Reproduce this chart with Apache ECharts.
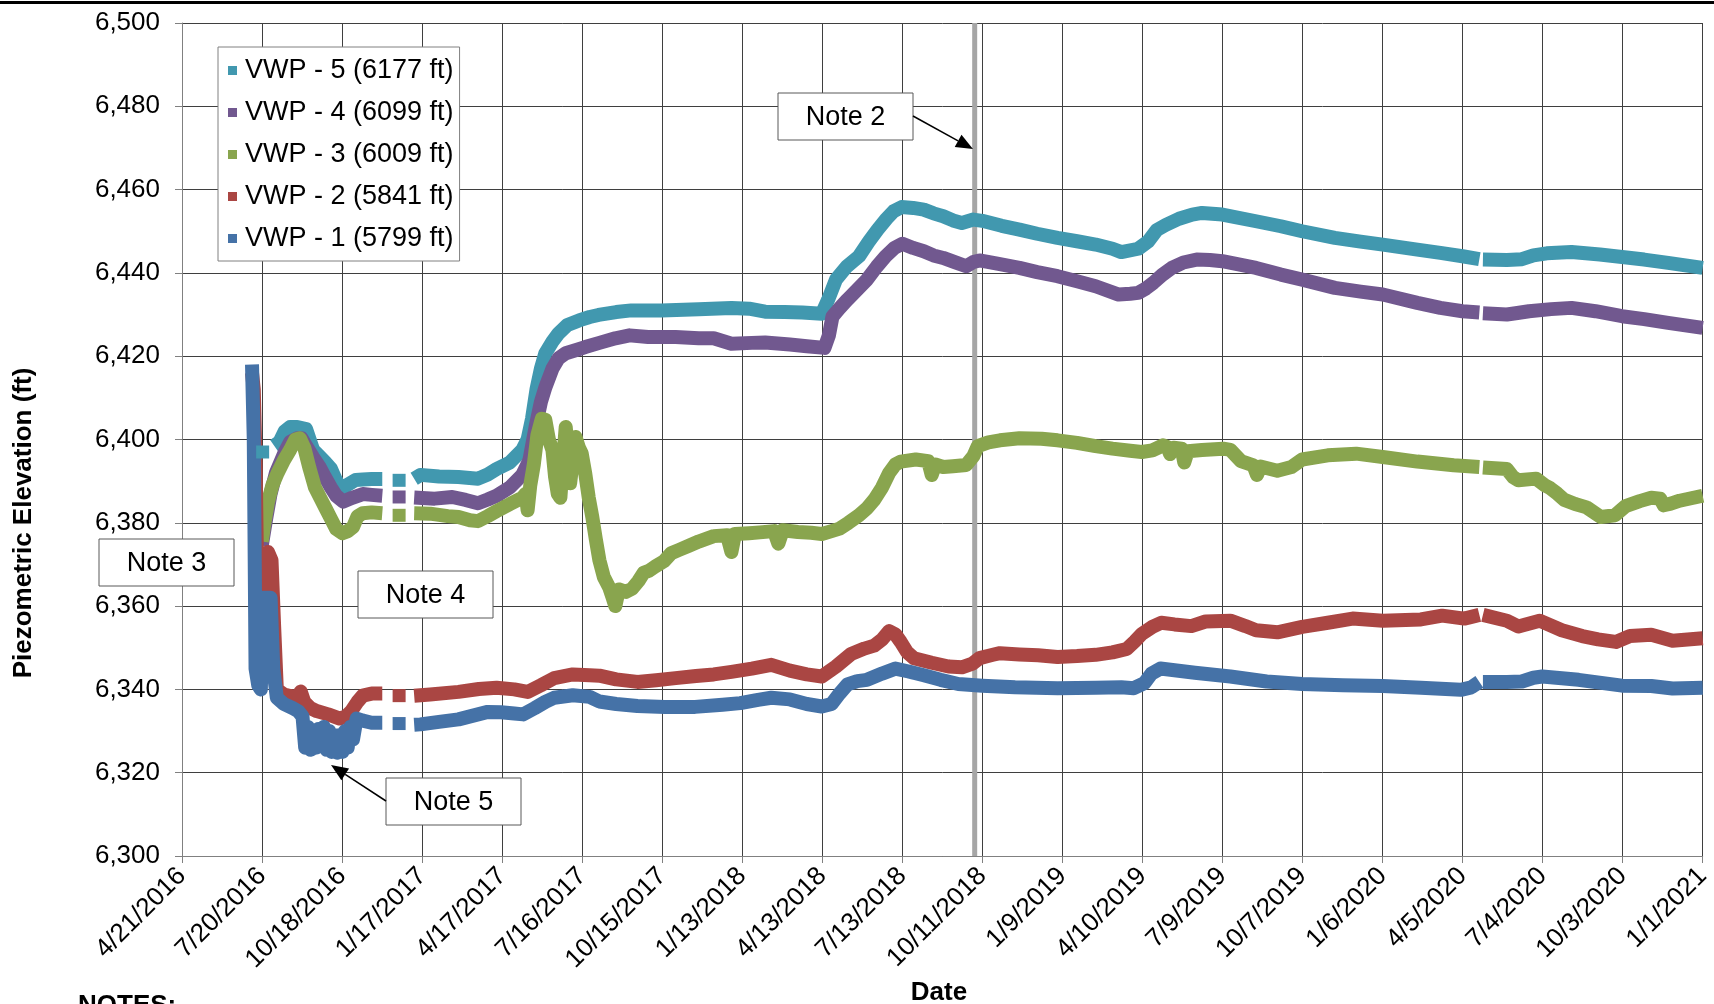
<!DOCTYPE html>
<html><head><meta charset="utf-8">
<script src="https://cdn.jsdelivr.net/npm/echarts@6/dist/echarts.min.js"></script>
<style>html,body{margin:0;padding:0;background:#fff}#c{width:1714px;height:1004px}</style>
</head><body><div id="c"></div>
<script>
// x values are days since 4/21/2016
const xTickLabels = ['4/21/2016','7/20/2016','10/18/2016','1/17/2017','4/17/2017','7/16/2017','10/15/2017','1/13/2018','4/13/2018','7/13/2018','10/11/2018','1/9/2019','4/10/2019','7/9/2019','10/7/2019','1/6/2020','4/5/2020','7/4/2020','10/3/2020','1/1/2021'];
const xSpanDays = 1716;
const yMin = 6300, yMax = 6500, yStep = 20;
const seriesNames = ['VWP - 5 (6177 ft)','VWP - 4 (6099 ft)','VWP - 3 (6009 ft)','VWP - 2 (5841 ft)','VWP - 1 (5799 ft)'];
const seriesColors = ['#4198AF','#71588F','#89A54E','#AA4643','#4572A7'];
const note2Day = [894.5];

const vwp5 = [[91,6397],[95,null],[104,6398.5],[110,6399.4],[116,6402],[122,6403],[130,6403],[140,6402.5],[148,6397.5],[155,6396],[161,6394.7],[168,6393],[174,6390.1],[180,6388],[186,6389],[196,6390.3],[204,6390.4],[214,6390.5],[226,6390.5],[235,null],[245,6390.2],[255,null],[262,6390.6],[269,6391.5],[290,6391.1],[312,6391],[334,6390.6],[345,6391.6],[355,6392.9],[370,6394.5],[384,6397.5],[390,6400],[395,6405],[400,6412],[405,6417],[410,6420.7],[418,6423.5],[425,6425.5],[435,6427.5],[448,6428.6],[460,6429.4],[470,6429.9],[490,6430.6],[507,6431],[541,6431],[583,6431.3],[620,6431.6],[640,6431.4],[658,6430.7],[680,6430.6],[700,6430.5],[722,6430.2],[729,6433.5],[738,6438.4],[750,6441.5],[764,6444],[775,6447.5],[785,6450.4],[795,6453],[803,6454.8],[812,6455.8],[825,6455.6],[837,6455.2],[848,6454.3],[859,6453.6],[870,6452.6],[880,6452],[893,6452.8],[903,6452.5],[925,6451.3],[945,6450.4],[965,6449.4],[988,6448.4],[1010,6447.6],[1031,6446.8],[1050,6445.8],[1060,6445],[1079,6445.8],[1090,6447.5],[1100,6450.3],[1110,6451.5],[1125,6453],[1140,6454],[1151,6454.4],[1174,6454],[1212,6452.4],[1240,6451.2],[1264,6450],[1301,6448.4],[1330,6447.5],[1355,6446.8],[1394,6445.6],[1420,6444.8],[1445,6444],[1464,6443.3],[1466,null],[1468,6443.2],[1495,6443.1],[1512,6443.3],[1525,6444.2],[1540,6444.7],[1568,6445],[1600,6444.4],[1625,6443.8],[1650,6443.2],[1677,6442.4],[1716,6441.2]];

const vwp4 = [[90,6374.5],[95,6381],[100,6387],[106,6392],[110,6394],[116,6397],[122,6399.4],[130,6400.3],[135,6400.3],[140,6398.5],[148,6395.7],[155,6393.5],[161,6391.1],[168,6388.5],[174,6386.5],[182,6385.1],[192,6386],[204,6386.9],[214,6386.7],[226,6386.5],[235,null],[245,6386.2],[255,null],[262,6386.1],[285,6385.8],[305,6386.2],[320,6385.5],[334,6384.7],[345,6385.6],[355,6386.5],[370,6388.5],[384,6391.5],[392,6395],[399,6403],[405,6409],[410,6412.5],[418,6417],[425,6419.5],[433,6420.7],[445,6421.5],[455,6422.2],[471,6423.2],[489,6424.3],[505,6425],[526,6424.6],[557,6424.6],[583,6424.3],[600,6424.3],[620,6423],[643,6423.2],[658,6423.3],[686,6422.8],[705,6422.4],[725,6422],[730,6425],[734,6429.5],[742,6431.5],[751,6433.6],[762,6436],[773,6438.4],[784,6441.5],[794,6444],[804,6446],[813,6447],[825,6446],[837,6445.2],[848,6444.2],[859,6443.6],[872,6442.6],[885,6441.6],[893,6442.6],[900,6443],[920,6442.2],[945,6441.2],[965,6440.2],[988,6439.2],[1010,6438],[1031,6436.8],[1057,6434.8],[1070,6435],[1079,6435.2],[1088,6436.3],[1096,6437.6],[1106,6439.5],[1117,6441.2],[1130,6442.5],[1145,6443.2],[1160,6443.1],[1174,6442.8],[1212,6441.2],[1240,6439.6],[1264,6438.4],[1301,6436.4],[1330,6435.5],[1355,6434.8],[1394,6432.8],[1420,6431.6],[1445,6430.8],[1464,6430.5],[1466,null],[1468,6430.3],[1495,6430],[1505,6430.3],[1520,6430.8],[1545,6431.3],[1568,6431.6],[1595,6430.8],[1625,6429.6],[1650,6428.9],[1677,6428],[1716,6426.8]];

const vwp3 = [[90,6375.5],[93,6380],[97,6385],[102,6389],[108,6392],[115,6395],[122,6397.5],[128,6400],[133,6400.3],[138,6398],[144,6393],[150,6388.5],[156,6386],[162,6383.5],[168,6381],[174,6378.5],[181,6377.5],[187,6378],[193,6379],[198,6381.5],[204,6382.3],[214,6382.5],[226,6382.3],[235,null],[245,6381.8],[255,null],[262,6382.3],[280,6382.2],[300,6381.6],[312,6381.4],[325,6380.6],[334,6380.4],[345,6381.6],[355,6382.8],[370,6384.5],[384,6386],[388,6387],[390,6383],[393,6389],[397,6394],[401,6401],[406,6405],[410,6404.7],[414,6400],[418,6397.5],[421,6391],[424,6387],[427,6386],[430,6395],[433,6403],[436,6396],[438,6389.5],[441,6395],[444,6400.6],[448,6398],[451,6396.7],[455,6391.9],[459,6386],[463,6381.4],[467,6376],[471,6371],[476,6367],[482,6364.5],[486,6362],[489,6360],[493,6364],[501,6363.4],[508,6364.2],[515,6366],[521,6368],[527,6368.5],[534,6369.5],[544,6370.8],[552,6372.7],[561,6373.5],[572,6374.5],[583,6375.5],[600,6376.8],[615,6377],[620,6373],[624,6377.3],[640,6377.5],[652,6377.7],[668,6378],[673,6375],[678,6378.2],[695,6377.8],[710,6377.6],[722,6377.3],[733,6378],[742,6378.6],[752,6380],[764,6381.8],[773,6383.5],[781,6385.5],[790,6388.5],[798,6392],[805,6394],[811,6394.7],[828,6395.2],[842,6394.8],[846,6391.5],[850,6394],[859,6393.4],[870,6393.6],[885,6393.9],[893,6396],[898,6398.4],[910,6399.3],[923,6399.8],[945,6400.3],[970,6400.2],[988,6399.8],[1010,6399.2],[1031,6398.4],[1050,6397.8],[1070,6397.3],[1083,6397],[1095,6397.4],[1107,6398.6],[1112,6398.2],[1115,6396.5],[1119,6398],[1128,6397.8],[1131,6394.5],[1135,6397.2],[1151,6397.5],[1175,6397.8],[1183,6397.5],[1195,6394.8],[1209,6393.8],[1213,6391.5],[1217,6393.5],[1236,6392.5],[1252,6393.4],[1264,6395.2],[1293,6396.2],[1325,6396.6],[1355,6395.8],[1394,6394.7],[1435,6393.8],[1464,6393.4],[1466,null],[1468,6393.3],[1495,6392.9],[1502,6391],[1508,6390.2],[1528,6390.6],[1538,6389],[1544,6388.3],[1552,6387],[1560,6385.5],[1572,6384.5],[1585,6383.7],[1601,6381.4],[1617,6381.8],[1629,6384],[1645,6385.2],[1658,6386],[1668,6385.8],[1672,6384.2],[1680,6384.6],[1690,6385.3],[1716,6386.5]];

const vwp2 = [[79,6416],[81,6412],[83,6395],[85,6365],[88,6355],[91,6372],[97,6373],[101,6371],[104,6355],[107,6340],[115,6338.8],[122,6338.4],[130,6338.2],[134,6339.5],[138,6337],[145,6335.5],[152,6334.8],[165,6334],[178,6333],[185,6333.5],[191,6334.8],[198,6337],[204,6338.5],[214,6339],[226,6339],[235,null],[245,6338.5],[255,null],[262,6338.5],[280,6338.8],[312,6339.4],[335,6340.1],[355,6340.4],[375,6340],[390,6339.4],[405,6341],[420,6342.7],[441,6343.6],[460,6343.4],[471,6343.3],[490,6342.4],[514,6341.8],[535,6342.2],[557,6342.7],[580,6343.2],[600,6343.6],[620,6344.2],[643,6345],[665,6345.9],[686,6344.5],[705,6343.6],[722,6343.1],[738,6345.5],[755,6348.5],[770,6349.8],[781,6350.5],[790,6352],[798,6354],[805,6353.2],[811,6351.4],[818,6349],[826,6347.5],[846,6346.4],[865,6345.5],[880,6345.3],[892,6346.2],[900,6347.5],[915,6348.3],[923,6348.7],[945,6348.4],[966,6348.2],[988,6347.8],[1010,6348],[1031,6348.3],[1050,6348.9],[1066,6349.7],[1075,6351.5],[1083,6353.3],[1095,6355],[1105,6356],[1120,6355.6],[1139,6355.2],[1155,6356.3],[1183,6356.5],[1200,6355.2],[1212,6354.2],[1236,6353.7],[1264,6355],[1293,6356],[1321,6357],[1355,6356.5],[1398,6356.8],[1422,6357.7],[1447,6357],[1464,6357.9],[1466,null],[1468,6357.9],[1495,6356.5],[1508,6355.1],[1532,6356.5],[1557,6354.2],[1580,6352.8],[1598,6352],[1618,6351.4],[1634,6352.8],[1658,6353.1],[1682,6351.7],[1716,6352.3]];

const vwp1 = [[79,6418],[81,6400],[83,6345],[86,6341],[89,6340],[91,6362],[100,6362],[103,6345],[107,6338],[115,6336.5],[125,6335.5],[131,6334.8],[136,6333.5],[139,6326],[142,6331],[145,6325.5],[148,6330],[151,6326],[154,6330.5],[157,6327],[160,6331],[163,6325.5],[166,6330],[169,6325],[172,6329],[175,6324.8],[178,6329],[181,6325],[184,6330],[187,6326],[190,6331],[193,6328],[197,6333],[204,6332.5],[214,6332],[226,6332],[235,null],[245,6331.8],[255,null],[262,6331.5],[269,6331.6],[290,6332.2],[312,6332.8],[334,6334],[345,6334.6],[360,6334.5],[375,6334.2],[385,6334],[398,6335.5],[410,6337],[420,6338],[441,6338.6],[460,6338.2],[471,6337.1],[490,6336.5],[514,6336],[545,6335.8],[579,6335.8],[610,6336.3],[630,6336.7],[650,6337.5],[665,6338],[686,6337.6],[705,6336.5],[722,6335.9],[733,6336.5],[742,6339],[751,6341.2],[762,6342],[773,6342.3],[790,6343.8],[805,6345],[820,6344.3],[837,6343.4],[856,6342.3],[876,6341.3],[903,6340.9],[940,6340.5],[988,6340.3],[1031,6340.4],[1060,6340.5],[1074,6340.3],[1086,6341.5],[1094,6343.8],[1104,6345],[1120,6344.6],[1143,6344],[1183,6343.1],[1224,6341.9],[1264,6341.3],[1310,6341],[1355,6340.8],[1398,6340.4],[1443,6339.9],[1455,6340.5],[1464,6341.8],[1466,null],[1468,6341.8],[1495,6341.8],[1512,6341.9],[1525,6342.8],[1535,6343.1],[1576,6342.3],[1625,6340.9],[1658,6340.8],[1682,6340.2],[1716,6340.4]];

const seriesData = [vwp5, vwp4, vwp3, vwp2, vwp1];
const FONT = '"Liberation Sans", Arial, sans-serif';
const xInterval = xSpanDays / (xTickLabels.length - 1);

const chart = echarts.init(document.getElementById('c'), null, {renderer: 'canvas'});

function isolatedSize(data) {
  return function (val, params) {
    const i = params.dataIndex;
    const prevNull = i === 0 || data[i - 1][1] == null;
    const nextNull = i === data.length - 1 || data[i + 1][1] == null;
    return (prevNull && nextNull) ? 13 : 0;
  };
}

function arrow(x1, y1, x2, y2) {
  const dx = x2 - x1, dy = y2 - y1, L = Math.hypot(dx, dy), ux = dx / L, uy = dy / L;
  const hl = 17, hw = 7, bx = x2 - ux * hl, by = y2 - uy * hl;
  return [
    {type: 'line', z: 100, shape: {x1: x1, y1: y1, x2: bx, y2: by}, style: {stroke: '#000', lineWidth: 1.5}},
    {type: 'polygon', z: 100, shape: {points: [[x2, y2], [bx - uy * hw, by + ux * hw], [bx + uy * hw, by - ux * hw]]}, style: {fill: '#000'}}
  ];
}
function noteBox(text, x, y, w, h) {
  return [
    {type: 'rect', z: 100, shape: {x: x, y: y, width: w, height: h}, style: {fill: '#fff', stroke: '#595959', lineWidth: 1}},
    {type: 'text', z: 101, x: x + w / 2, y: y + h / 2 + 1, style: {text: text, align: 'center', verticalAlign: 'middle', font: '27px ' + FONT, fill: '#000'}}
  ];
}

const series = seriesNames.map((name, k) => ({
  name: name,
  type: 'line',
  data: seriesData[k],
  z: 3,
  symbol: 'rect',
  symbolSize: isolatedSize(seriesData[k]),
  connectNulls: false,
  color: seriesColors[k],
  lineStyle: {width: 14, color: seriesColors[k], join: 'round', cap: 'butt'},
  itemStyle: {color: seriesColors[k]},
  emphasis: {disabled: true},
  silent: true
}));
series.unshift({
  name: 'Note 2 marker',
  type: 'line',
  z: 2,
  data: [[note2Day[0], yMin], [note2Day[0], yMax]],
  symbol: 'none',
  lineStyle: {width: 5, color: '#a6a6a6'},
  emphasis: {disabled: true},
  silent: true
});

const graphics = [
  {type: 'rect', shape: {x: 0, y: 1, width: 1714, height: 3}, style: {fill: '#000'}},
  {type: 'text', x: 24, y: 523, rotation: Math.PI / 2, style: {text: 'Piezometric Elevation (ft)', align: 'center', verticalAlign: 'middle', font: 'bold 26px ' + FONT, fill: '#000'}},
  {type: 'text', x: 939, y: 993, style: {text: 'Date', align: 'center', verticalAlign: 'middle', font: 'bold 26px ' + FONT, fill: '#000'}},
  {type: 'text', x: 78, y: 993, style: {text: 'NOTES:', align: 'left', verticalAlign: 'top', font: 'bold 26px ' + FONT, fill: '#000'}}
]
  .concat(noteBox('Note 2', 778, 93, 135, 47))
  .concat(noteBox('Note 3', 99, 539, 135, 47))
  .concat(noteBox('Note 4', 358, 571, 135, 47))
  .concat(noteBox('Note 5', 386, 778, 135, 47))
  .concat(arrow(913, 116, 973, 149))
  .concat(arrow(386, 801, 331, 765));

chart.setOption({
  animation: false,
  backgroundColor: '#fff',
  grid: {left: 182, right: 7, top: 23, bottom: 148, containLabel: false},
  legend: {
    data: seriesNames,
    orient: 'vertical',
    left: 218, top: 47,
    icon: 'rect', itemWidth: 9, itemHeight: 9, itemGap: 15,
    padding: [10, 6, 9, 10],
    backgroundColor: '#fff', borderColor: '#808080', borderWidth: 1,
    textStyle: {fontSize: 27, color: '#000', fontFamily: FONT, padding: [0, 0, 0, 3]},
    selectedMode: false
  },
  xAxis: {
    type: 'value', min: 0, max: xSpanDays, interval: xInterval,
    axisLine: {show: true, lineStyle: {color: '#808080', width: 1}},
    axisTick: {show: true, length: 7, lineStyle: {color: '#808080'}},
    splitLine: {show: true, lineStyle: {color: '#3f3f3f', width: 1}},
    axisLabel: {
      rotate: 45, margin: 16, fontSize: 26, color: '#000', fontFamily: FONT,
      showMinLabel: true, showMaxLabel: true, hideOverlap: false,
      formatter: v => xTickLabels[Math.round(v / xInterval)] || ''
    }
  },
  yAxis: {
    type: 'value', min: yMin, max: yMax, interval: yStep,
    axisLine: {show: true, lineStyle: {color: '#808080', width: 1}},
    axisTick: {show: true, length: 7, lineStyle: {color: '#808080'}},
    splitLine: {show: true, lineStyle: {color: '#3f3f3f', width: 1}},
    axisLabel: {margin: 22, fontSize: 26, color: '#000', fontFamily: FONT,
      formatter: v => v.toLocaleString('en-US')}
  },
  series: series,
  graphic: graphics
});
</script></body></html>
